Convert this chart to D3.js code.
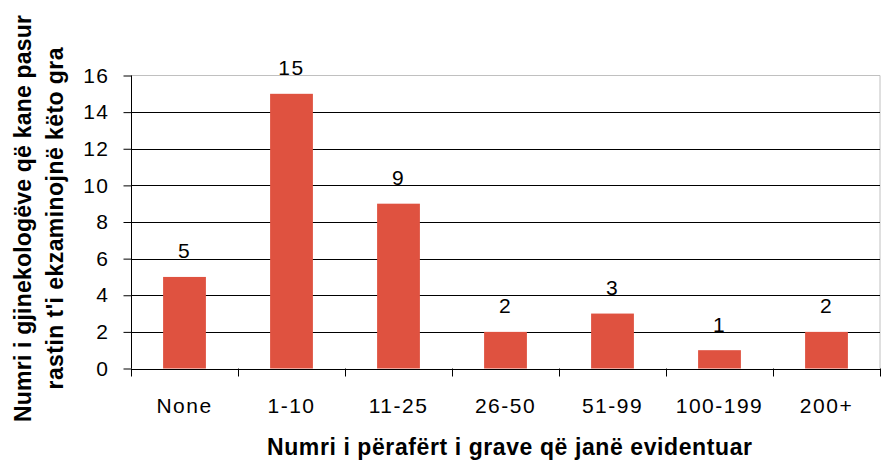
<!DOCTYPE html>
<html><head><meta charset="utf-8">
<script src="https://cdn.jsdelivr.net/npm/d3@7"></script>
<style>body{margin:0;background:#fff}svg{display:block}</style>
</head><body>
<script>
const categories = ["None","1-10","11-25","26-50","51-99","100-199","200+"];
const values = [5,15,9,2,3,1,2];
const yTicks = [0,2,4,6,8,10,12,14,16];
const xTitle = "Numri i përafërt i grave që janë evidentuar";
const yTitleLines = ["Numri i gjinekologëve që kane pasur","rastin t'i ekzaminojnë këto gra"];

(function(){
const W = 881, H = 463;
const pLeft = 131, pRight = 880, pTop = 75.5, pBottom = 368.5;
const svg = d3.select("body").append("svg").attr("width",W).attr("height",H);
const font = "'Liberation Sans', Arial, sans-serif";

const x = d3.scaleBand().domain(categories).range([pLeft,pRight]).paddingInner(0.6).paddingOuter(0.3);
const y = d3.scaleLinear().domain([0,16]).range([pBottom,pTop]);
const step = x.step();
const boundary = d => x(d) - step*0.3;

// plot border (top & right) gray
svg.append("line").attr("x1",pLeft).attr("x2",pRight).attr("y1",y(16)).attr("y2",y(16)).attr("stroke","#c0c0c0").attr("stroke-width",1);
svg.append("line").attr("x1",pRight).attr("x2",pRight).attr("y1",y(16)).attr("y2",y(0)).attr("stroke","#c0c0c0").attr("stroke-width",1);

// gridlines
svg.append("g").selectAll("line").data(yTicks.filter(t=>t>0 && t<16)).join("line")
  .attr("x1",pLeft).attr("x2",pRight).attr("y1",d=>Math.round(y(d))+0.5).attr("y2",d=>Math.round(y(d))+0.5)
  .attr("stroke","#000").attr("stroke-width",1);

// bars
svg.append("g").selectAll("rect").data(values).join("rect")
  .attr("x",(d,i)=>x(categories[i])).attr("width",x.bandwidth())
  .attr("y",d=>y(d)).attr("height",d=>y(0)-y(d)).attr("fill","#DF5240");

// value labels
svg.append("g").selectAll("text").data(values).join("text")
  .attr("x",(d,i)=>x(categories[i])+x.bandwidth()/2).attr("y",d=>y(d)-18.5)
  .attr("text-anchor","middle").attr("font-family",font).attr("font-size",21)
  .attr("letter-spacing","1.5px").attr("fill","#000").text(d=>d);

// y axis
const yAxis = svg.append("g").attr("transform",`translate(${pLeft+0.5},0)`)
  .call(d3.axisLeft(y).tickValues(yTicks).tickSize(8).tickPadding(14).tickFormat(d3.format("d")));
yAxis.select(".domain").attr("d",`M0,${y(16)}V${y(0)}`).attr("stroke","#000");
yAxis.selectAll(".tick line").attr("stroke","#000");
yAxis.selectAll("text").attr("font-family",font).attr("font-size",21).attr("letter-spacing","1.5px").attr("fill","#000");

// x axis
const xg = svg.append("g");
xg.append("line").attr("x1",pLeft).attr("x2",pRight).attr("y1",Math.round(y(0))+0.5).attr("y2",Math.round(y(0))+0.5).attr("stroke","#000");
const bounds = categories.map(boundary).concat([pRight]);
xg.selectAll("line.tk").data(bounds).join("line").attr("class","tk")
  .attr("x1",d=>Math.round(d)+0.5).attr("x2",d=>Math.round(d)+0.5)
  .attr("y1",y(0)).attr("y2",y(0)+8).attr("stroke","#000");
xg.selectAll("text").data(categories).join("text")
  .attr("x",d=>x(d)+x.bandwidth()/2).attr("y",413)
  .attr("text-anchor","middle").attr("font-family",font).attr("font-size",21)
  .attr("letter-spacing","1.5px").attr("fill","#000").text(d=>d);

// titles
svg.append("text").attr("x",509.5).attr("y",455).attr("text-anchor","middle")
  .attr("font-family",font).attr("font-weight","bold").attr("font-size",23)
  .attr("textLength",485).attr("lengthAdjust","spacing").attr("fill","#000").text(xTitle);
const yLens = [407, 342];
svg.append("g").attr("transform","translate(0,218.5) rotate(-90)")
  .selectAll("text").data(yTitleLines).join("text")
  .attr("x",0).attr("y",(d,i)=>31+i*32).attr("text-anchor","middle")
  .attr("textLength",(d,i)=>yLens[i]).attr("lengthAdjust","spacing")
  .attr("font-family",font).attr("font-weight","bold").attr("font-size",23).attr("fill","#000").text(d=>d);
})();
</script>
</body></html>
